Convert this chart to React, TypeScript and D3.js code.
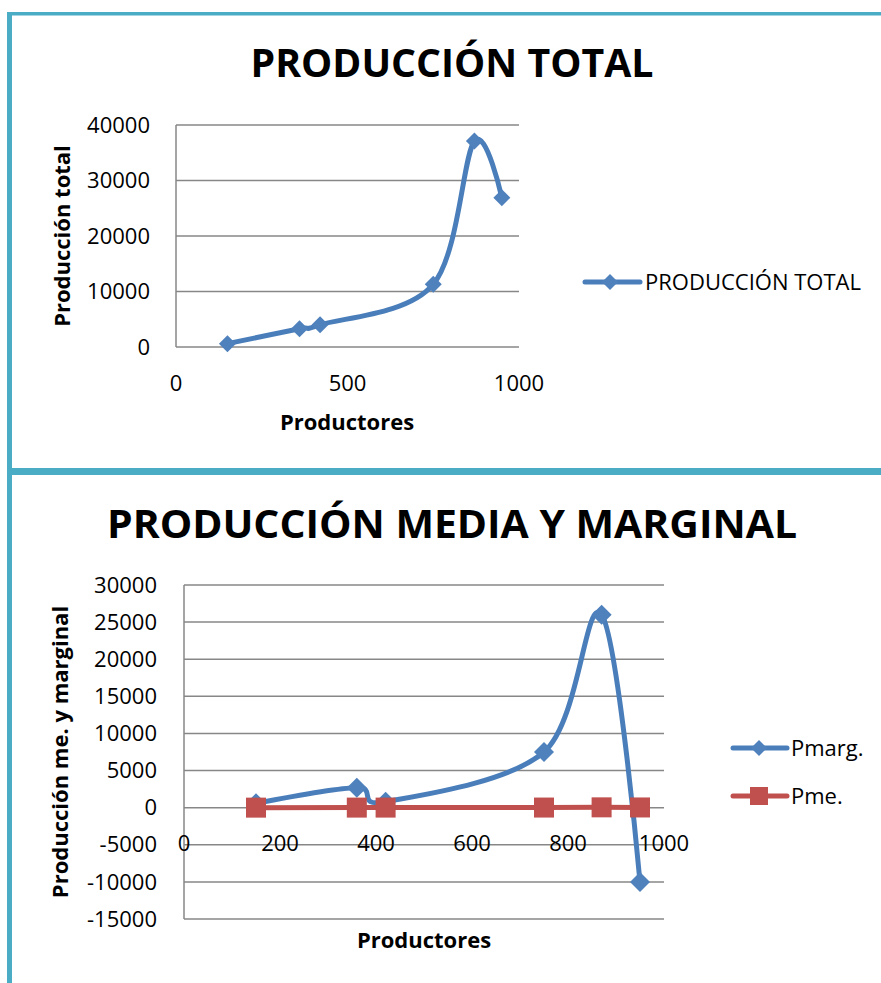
import React from "react";
import * as d3 from "d3";

const productores = [150, 360, 420, 750, 870, 950];
const produccionTotal = [600, 3300, 4000, 11300, 37100, 26900];
const pmarg = [600, 2700, 800, 7500, 26000, -10000];
const pme = [4, 9, 10, 15, 43, 28];

const topYTicks = [0, 10000, 20000, 30000, 40000];
const topXTicks = [0, 500, 1000];
const botYTicks = [-15000, -10000, -5000, 0, 5000, 10000, 15000, 20000, 25000, 30000];
const botXTicks = [0, 200, 400, 600, 800, 1000];

const BLUE = "#4A7EBB";
const BLUE_M = "#4F81BD";
const RED = "#C0504D";
const GRID = "#878787";
const TEAL = "#4BACC6";
const FONT = "'Open Sans', 'Noto Sans', sans-serif";

function diamond(cx: number, cy: number, r: number) {
  return `M${cx},${cy - r}L${cx + r},${cy}L${cx},${cy + r}L${cx - r},${cy}Z`;
}

export default function App() {
  // top chart scales
  const x1 = d3.scaleLinear().domain([0, 1000]).range([176, 519]);
  const y1 = d3.scaleLinear().domain([0, 40000]).range([347, 125]);
  // bottom chart scales
  const x2 = d3.scaleLinear().domain([0, 1000]).range([184, 664]);
  const y2 = d3.scaleLinear().domain([-15000, 30000]).range([919, 585]);

  const curve = d3.curveCardinal.tension(0);
  const line1 = d3
    .line<number>()
    .x((_, i) => x1(productores[i]))
    .y((d) => y1(d))
    .curve(curve);
  const line2 = d3
    .line<number>()
    .x((_, i) => x2(productores[i]))
    .y((d) => y2(d))
    .curve(curve);
  const line2s = d3
    .line<number>()
    .x((_, i) => x2(productores[i]))
    .y((d) => y2(d));

  return (
    <svg
      width={881}
      height={983}
      style={{ position: "absolute", left: 0, top: 0, background: "#fff" }}
      fontFamily={FONT}
    >
      <rect x={0} y={0} width={881} height={983} fill="#fff" />
      {/* borders */}
      <rect x={7} y={12} width={874} height={3.5} fill={TEAL} />
      <rect x={7} y={12} width={5} height={971} fill={TEAL} />
      <rect x={7} y={468} width={874} height={7} fill={TEAL} />

      {/* ---------- TOP CHART ---------- */}
      <text
        x={452}
        y={77}
        textAnchor="middle"
        fontSize={40}
        fontWeight={700}
        textLength={403}
        lengthAdjust="spacingAndGlyphs"
      >
        PRODUCCIÓN TOTAL
      </text>
      {topYTicks.map((t) => (
        <g key={"tg" + t}>
          <line x1={x1(0)} x2={x1(1000)} y1={y1(t)} y2={y1(t)} stroke={GRID} strokeWidth={1.5} />
          <text x={150} y={y1(t)} dy="0.35em" textAnchor="end" fontSize={22}>
            {t}
          </text>
        </g>
      ))}
      <line x1={x1(0)} x2={x1(0)} y1={y1(40000)} y2={y1(0)} stroke={GRID} strokeWidth={1.5} />
      {topXTicks.map((t) => (
        <text key={"tx" + t} x={x1(t)} y={383} dy="0.35em" textAnchor="middle" fontSize={22}>
          {t}
        </text>
      ))}
      <text x={347} y={422} dy="0.35em" textAnchor="middle" fontSize={22} fontWeight={700}>
        Productores
      </text>
      <text
        transform={`translate(62,${(y1(0) + y1(40000)) / 2}) rotate(-90)`}
        dy="0.35em"
        textAnchor="middle"
        fontSize={22}
        fontWeight={700}
      >
        Producción total
      </text>
      <path d={line1(produccionTotal) || ""} fill="none" stroke={BLUE} strokeWidth={5} strokeLinecap="round" />
      {produccionTotal.map((v, i) => (
        <path key={"pt" + i} d={diamond(x1(productores[i]), y1(v), 8.5)} fill={BLUE_M} />
      ))}
      {/* legend top */}
      <line x1={585} x2={640} y1={282} y2={282} stroke={BLUE} strokeWidth={5} strokeLinecap="round" />
      <path d={diamond(610, 282, 8)} fill={BLUE_M} />
      <text x={645} y={282} dy="0.35em" fontSize={22}>
        PRODUCCIÓN TOTAL
      </text>

      {/* ---------- BOTTOM CHART ---------- */}
      <text
        x={452}
        y={538}
        textAnchor="middle"
        fontSize={40}
        fontWeight={700}
        textLength={690}
        lengthAdjust="spacingAndGlyphs"
      >
        PRODUCCIÓN MEDIA Y MARGINAL
      </text>
      {botYTicks.map((t) => (
        <g key={"bg" + t}>
          <line x1={x2(0)} x2={x2(1000)} y1={y2(t)} y2={y2(t)} stroke={GRID} strokeWidth={1.5} />
          <text x={157} y={y2(t)} dy="0.35em" textAnchor="end" fontSize={22}>
            {t}
          </text>
        </g>
      ))}
      <line x1={x2(0)} x2={x2(0)} y1={y2(30000)} y2={y2(-15000)} stroke={GRID} strokeWidth={1.5} />
      {botXTicks.map((t) => (
        <text key={"bx" + t} x={x2(t)} y={843} dy="0.35em" textAnchor="middle" fontSize={22}>
          {t}
        </text>
      ))}
      <text x={424} y={940} dy="0.35em" textAnchor="middle" fontSize={22} fontWeight={700}>
        Productores
      </text>
      <text
        transform={`translate(60,${(y2(30000) + y2(-15000)) / 2}) rotate(-90)`}
        dy="0.35em"
        textAnchor="middle"
        fontSize={22}
        fontWeight={700}
      >
        Producción me. y marginal
      </text>
      <path d={line2(pmarg) || ""} fill="none" stroke={BLUE} strokeWidth={5} strokeLinecap="round" />
      {pmarg.map((v, i) => (
        <path key={"pm" + i} d={diamond(x2(productores[i]), y2(v), 10)} fill={BLUE_M} />
      ))}
      <path d={line2s(pme) || ""} fill="none" stroke={RED} strokeWidth={5} strokeLinecap="round" />
      {pme.map((v, i) => (
        <rect
          key={"pe" + i}
          x={x2(productores[i]) - 10}
          y={y2(v) - 10}
          width={20}
          height={20}
          fill={RED}
        />
      ))}
      {/* legend bottom */}
      <line x1={733} x2={787} y1={748} y2={748} stroke={BLUE} strokeWidth={5} strokeLinecap="round" />
      <path d={diamond(759, 748, 8)} fill={BLUE_M} />
      <text x={791} y={748} dy="0.35em" fontSize={22}>
        Pmarg.
      </text>
      <line x1={733} x2={787} y1={796} y2={796} stroke={RED} strokeWidth={5} strokeLinecap="round" />
      <rect x={750} y={787} width={18} height={18} fill={RED} />
      <text x={791} y={796} dy="0.35em" fontSize={22}>
        Pme.
      </text>
    </svg>
  );
}
